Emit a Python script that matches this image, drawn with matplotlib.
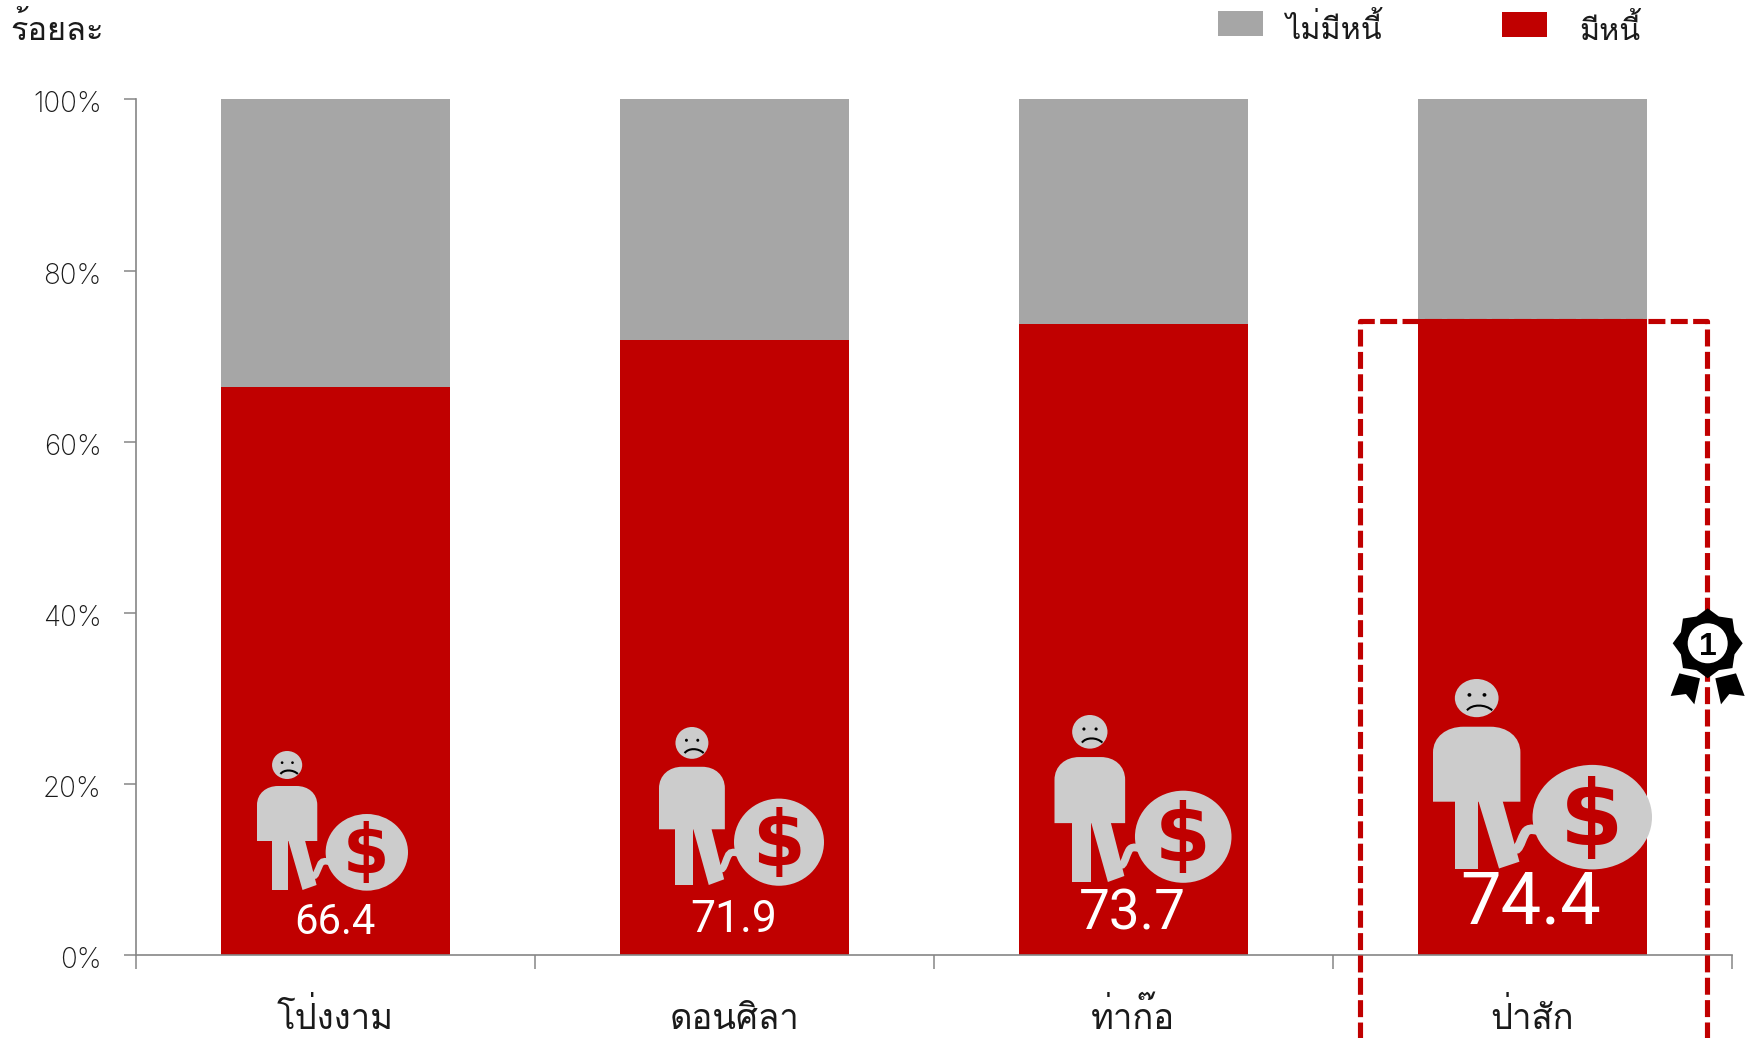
import numpy as np
import matplotlib
matplotlib.use('Agg')
import matplotlib.pyplot as plt
from matplotlib.path import Path
from matplotlib.patches import PathPatch, Ellipse, Polygon, Circle
from matplotlib.transforms import Affine2D, ScaledTranslation

W, H = 1746, 1038
THAI = ['Loma', 'FreeSerif', 'Noto Sans Thai', 'DejaVu Sans']
NUM = ['Roboto', 'Liberation Sans', 'DejaVu Sans']
TICK = ['Inter', 'Roboto', 'DejaVu Sans']

districts = ['โป่งงาม', 'ดอนศิลา', 'ท่าก๊อ', 'ป่าสัก']
debt = [66.4, 71.9, 73.7, 74.4]
no_debt = [33.6, 28.1, 26.3, 25.6]
series_names = ['ไม่มีหนี้', 'มีหนี้']
y_ticks = [0, 20, 40, 60, 80, 100]
y_tick_labels = ['0%', '20%', '40%', '60%', '80%', '100%']
unit_label = 'ร้อยละ'

RED = '#C00000'
GREY = '#A6A6A6'
ICON = '#CCCCCC'
AXC = '#868686'
INK = '#1a1a1a'

fig = plt.figure(figsize=(W / 100, H / 100), dpi=100)
ax = fig.add_axes([136 / W, (H - 955) / H, (1731.5 - 136) / W, 855.5 / H])

x = np.arange(len(districts)) + 0.5
bw = 0.574
b_red = ax.bar(x, debt, bw, color=RED, zorder=2)
b_grey = ax.bar(x, no_debt, bw, bottom=debt, color=GREY, zorder=2)
ax.set_xlim(0, 4)
ax.set_ylim(0, 100)

for s in ('top', 'right'):
    ax.spines[s].set_visible(False)
for s in ('left', 'bottom'):
    ax.spines[s].set_color(AXC)
    ax.spines[s].set_linewidth(1.2)
    ax.spines[s].set_zorder(3)

ax.set_yticks(y_ticks, y_tick_labels, family=TICK, weight='light', fontsize=20, color=INK)
ax.tick_params(axis='y', length=8.6, width=1.1, color=AXC, pad=16)
for lbl in ax.get_yticklabels():
    lbl.set_transform(lbl.get_transform() + ScaledTranslation(0, -2.5 / 100, fig.dpi_scale_trans))
ax.set_xticks(np.arange(5), [''] * 5)
ax.tick_params(axis='x', which='major', length=10, width=1.1, color=AXC)
ax.set_xticks(x, districts, minor=True, family=THAI, fontsize=25, color=INK)
ax.tick_params(axis='x', which='minor', length=0, pad=53)
for lbl in ax.get_xticklabels(minor=True):
    lbl.set_verticalalignment('baseline')

# data labels
label_sizes = [30, 32, 39.5, 52]
label_lifts = [21, 23, 26, 32]
for xi, v, fs, up in zip(x, debt, label_sizes, label_lifts):
    ax.annotate(f'{v:.1f}', (xi, 0), xytext=(-1, up), textcoords='offset pixels',
                ha='center', va='baseline', color='white', fontsize=fs, family=NUM,
                zorder=5)

# legend: two separate entries so that each keeps its own spacing
common = dict(loc='upper left', frameon=False, prop={'family': THAI, 'size': 22},
              handlelength=1.47, handleheight=0.87, borderpad=0, borderaxespad=0,
              labelcolor=INK)
leg_a = fig.legend([b_grey], series_names[:1], bbox_to_anchor=(1218 / W, 1 - 8 / H),
                   handletextpad=0.72, **common)
leg_b = fig.legend([b_red], series_names[1:], bbox_to_anchor=(1502 / W, 1 - 9 / H),
                   handletextpad=1.06, **common)
for leg in (leg_a, leg_b):
    for t in leg.get_texts():
        t.set_position((0, -5))

# overlay in pixel coordinates for the annotations drawn over the chart
ov = fig.add_axes([0, 0, 1, 1], zorder=10)
ov.set_xlim(0, W)
ov.set_ylim(H, 0)
ov.axis('off')
ov.patch.set_alpha(0)

ov.text(10, 40, unit_label, family=THAI, fontsize=23.5, color=INK, ha='left', va='baseline')

# dashed highlight around the top district
box = Path([(1360, 1045), (1360, 321), (1707, 321), (1707, 1045)])
ov.add_patch(PathPatch(box, fill=False, ec=RED, lw=3.7, ls=(0, (3.3, 1.05)),
                       capstyle='butt', joinstyle='round', clip_on=False))


def icon(x0, y0, x1, y1):
    """Debt icon; its shape is given in a 451 x 417 design box."""
    sx = (x1 - x0) / 451
    sy = (y1 - y0) / 417
    tr = Affine2D().translate(-82, -63).scale(sx, sy).translate(x0, y0) + ov.transData
    add = lambda p: (p.set_transform(tr), ov.add_patch(p))
    M, L, C, Z = Path.MOVETO, Path.LINETO, Path.CURVE4, Path.CLOSEPOLY
    body = Path([(82, 333), (82, 225), (82, 190), (110, 168), (145, 168), (200, 168),
                 (235, 168), (262, 190), (262, 225), (262, 333), (82, 333)],
                [M, L, C, C, C, L, C, C, C, L, Z])
    add(PathPatch(body, fc=ICON, ec='none'))
    add(Polygon([(127, 330), (175, 330), (175, 480), (127, 480)], fc=ICON, ec='none'))
    add(Polygon([(175, 330), (225, 330), (260, 465), (218, 480)], fc=ICON, ec='none'))
    add(Ellipse((172, 105), 90, 84, fc=ICON, ec='none'))
    for ex in (157, 188):
        add(Ellipse((ex, 98), 8, 8, fc='black', ec='none'))
    frown = Path([(152, 132), (162, 118), (190, 118), (204, 132)], [M, C, C, C])
    add(PathPatch(frown, fill=False, ec='black', lw=1.5))
    cord = Path([(245, 432), (257, 450), (262, 420), (270, 405), (275, 392), (285, 392), (298, 396)],
                [M, C, C, C, C, C, C])
    add(PathPatch(cord, fill=False, ec=ICON, lw=10 * sx * 1.4))
    add(Ellipse((410, 367), 246, 230, fc=ICON, ec='none'))
    em = 200 * sy
    ov.text(0, 0, '$', transform=Affine2D().translate(408, 428) + tr,
            ha='center', va='baseline', family='DejaVu Sans', weight='bold',
            fontsize=em * 0.72, color=RED)


icon(257, 751, 408, 890)
icon(659, 727, 824, 885)
icon(1054.5, 715, 1231.5, 882)
icon(1433, 679, 1652, 868.5)

# rank-one rosette
cx, cy = 1707.7, 643.3
ang = np.deg2rad(np.arange(16) * 22.5 - 90)
rad = np.where(np.arange(16) % 2 == 0, 35, 29)
ov.add_patch(Polygon(np.c_[cx + rad * np.cos(ang), cy + rad * np.sin(ang)], fc='black', ec='none', zorder=6))
ov.add_patch(Circle((cx, cy), 20, fc='white', ec='none', zorder=7))
to_px = lambda pts: [(1650 + a / 3, 590 + b / 3) for a, b in pts]
ov.add_patch(Polygon(to_px([(88, 250), (150, 265), (133, 343), (108, 312), (62, 318)]), fc='black', ec='none', zorder=6))
ov.add_patch(Polygon(to_px([(258, 250), (196, 265), (213, 343), (238, 312), (284, 318)]), fc='black', ec='none', zorder=6))
ov.text(cx, 655, '1', ha='center', va='baseline', family='Liberation Sans', weight='bold',
        fontsize=23, color='black', zorder=8)

fig.savefig('out.png', dpi=100)
